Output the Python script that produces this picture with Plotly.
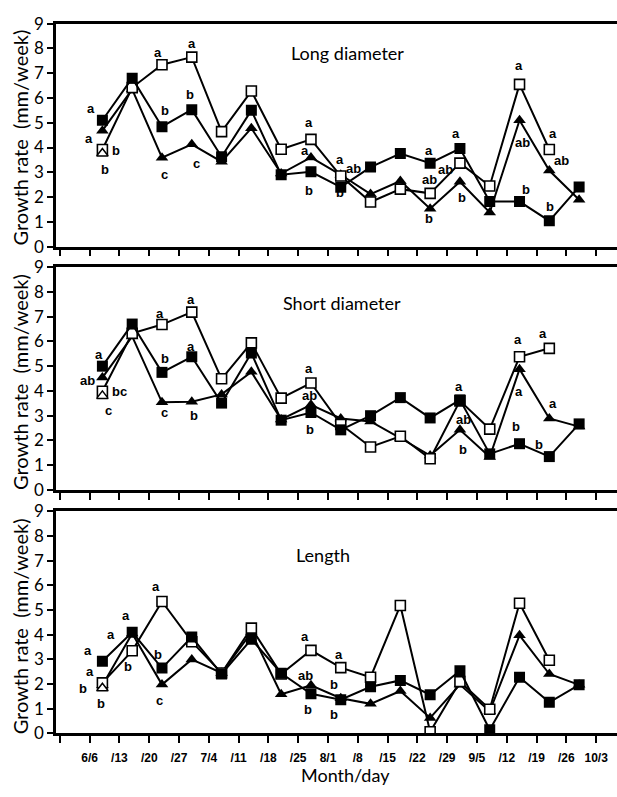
import plotly.graph_objects as go

# ---------------- data ----------------
weeks = list(range(17))
days = [3 + 7 * k for k in weeks]          # sampling days counted from 6/6
tick_days = [-7 + 7 * i for i in range(19)]
tick_text = ["", "6/6", "/13", "/20", "/27", "7/4", "/11", "/18", "/25", "8/1",
             "/8", "/15", "/22", "/29", "9/5", "/12", "/19", "/26", "10/3"]
y_ticks = list(range(10))

panel_titles = ["Long diameter", "Short diameter", "Length"]

long_fs = [5.1, 6.8, 4.84, 5.53, 3.63, 5.5, 2.9, 3.02, 2.4, 3.21, 3.76, 3.37, 3.96, 1.82, 1.82, 1.04, 2.41]
long_os = [3.92, 6.42, 7.34, 7.65, 4.64, 6.28, 3.93, 4.33, 2.85, 1.8, 2.32, 2.15, 3.37, 2.45, 6.55, 3.92, None]
long_tr = [4.68, 6.35, 3.59, 4.13, 3.43, 4.78, 2.95, 3.6, 2.9, 2.12, 2.65, 1.53, 2.62, 1.38, 5.1, 3.07, 1.89]
long_ot = [3.76]

short_fs = [5.0, 6.7, 4.75, 5.38, 3.51, 5.53, 2.82, 3.13, 2.43, 3.0, 3.73, 2.91, 3.64, 1.46, 1.87, 1.35, 2.67]
short_os = [3.99, 6.33, 6.68, 7.18, 4.49, 5.94, 3.71, 4.32, 2.65, 1.74, 2.17, 1.26, 3.6, 2.46, 5.38, 5.72, None]
short_tr = [4.54, 6.2, 3.54, 3.56, 3.86, 4.77, 2.85, 3.44, 2.89, 2.77, 2.1, 1.39, 2.43, 1.33, 4.88, 2.89, 2.56]
short_ot = [3.8]

len_fs = [2.93, 4.1, 2.65, 3.91, 2.41, 3.82, 2.44, 1.61, 1.37, 1.89, 2.15, 1.57, 2.54, 0.15, 2.28, 1.26, 1.97]
len_os = [2.05, 3.35, 5.35, 3.72, 2.45, 4.27, 2.41, 3.37, 2.67, 2.28, 5.19, 0.07, 2.1, 0.98, 5.28, 2.97, None]
len_tr = [1.95, 4.05, 1.98, 3.0, 2.45, 4.1, 1.59, 1.95, 1.43, 1.2, 1.72, 0.63, 1.98, 0.9, 3.98, 2.41, 1.97]
len_ot = [1.83]

# significance letters: (day, value, letter)
long_letters = [
    (0.4, 5.56, "a"), (-0.1, 4.35, "a"), (6.2, 3.87, "b"), (3.6, 3.1, "b"),
    (16.1, 7.82, "a"), (17.7, 5.5, "b"), (17.7, 2.9, "c"),
    (24.1, 8.2, "a"), (23.6, 6.16, "b"), (25.0, 3.34, "c"),
    (51.6, 5.0, "a"), (50.7, 3.87, "a"), (51.6, 2.25, "b"),
    (58.8, 3.5, "a"), (62.1, 3.15, "ab"), (58.8, 2.19, "b"),
    (79.8, 3.87, "a"), (83.5, 3.13, "ab"), (79.8, 2.69, "ab"), (79.8, 1.14, "b"),
    (86.1, 4.57, "a"), (87.5, 1.97, "b"),
    (100.9, 7.3, "a"), (101.6, 4.22, "ab"), (102.6, 2.32, "b"),
    (108.9, 4.55, "a"), (110.8, 3.47, "ab"), (108.2, 1.6, "b"),
]
short_letters = [
    (2.2, 5.49, "a"), (-0.4, 4.42, "ab"), (6.9, 3.99, "bc"), (4.5, 3.21, "c"),
    (16.5, 7.11, "a"), (17.7, 5.29, "b"), (17.5, 3.15, "c"),
    (23.8, 7.7, "a"), (23.8, 5.81, "a"), (24.5, 3.02, "b"),
    (51.6, 4.9, "a"), (51.6, 3.8, "ab"), (51.8, 2.43, "b"),
    (86.8, 4.16, "a"), (87.8, 2.86, "ab"), (87.8, 1.65, "b"),
    (100.6, 6.07, "a"), (100.9, 3.99, "a"), (100.2, 2.56, "b"),
    (106.5, 6.33, "a"), (108.9, 3.51, "a"), (105.6, 1.85, "b"),
]
len_letters = [
    (-0.3, 3.37, "a"), (0.2, 2.5, "a"), (-1.5, 1.83, "b"), (2.7, 1.2, "b"),
    (8.6, 4.8, "a"), (5.1, 4.0, "a"), (9.1, 2.7, "b"),
    (15.7, 5.97, "a"), (16.1, 3.2, "b"), (16.4, 1.33, "c"),
    (50.7, 3.95, "a"), (50.7, 2.35, "ab"), (51.2, 0.98, "b"),
    (58.7, 3.2, "a"), (57.5, 2.0, "b"), (57.5, 0.78, "b"),
]

panels = [
    (long_fs, long_os, long_tr, long_ot, long_letters),
    (short_fs, short_os, short_tr, short_ot, short_letters),
    (len_fs, len_os, len_tr, len_ot, len_letters),
]

# ---------------- layout geometry ----------------
W, H = 617, 797
ML = 56
pix_rows = [(13, 242), (263, 492), (514, 742)]   # (top, bottom) of each panel in px
title_pos = [(60.5, 7.82), (59.4, 7.57), (54.8, 7.24)]
ytitle_center = [130, 381, 632]

TITLE_FONT = "Lato"
LETTER_FONT = "Liberation Sans"

fig = go.Figure()
annotations = []

for i, (fs, os_, tr, ot, letters) in enumerate(panels):
    n = "" if i == 0 else str(i + 1)
    xa, ya = "x" + n, "y" + n
    fig.add_trace(go.Scatter(
        x=days, y=tr, xaxis=xa, yaxis=ya, mode="lines+markers",
        line=dict(color="black", width=2),
        marker=dict(symbol="triangle-up", size=11, color="black"),
        showlegend=False))
    fig.add_trace(go.Scatter(
        x=days, y=os_, xaxis=xa, yaxis=ya, mode="lines+markers",
        line=dict(color="black", width=2),
        marker=dict(symbol="square", size=10, color="white",
                    line=dict(color="black", width=1.6)),
        showlegend=False))
    fig.add_trace(go.Scatter(
        x=days, y=fs, xaxis=xa, yaxis=ya, mode="lines+markers",
        line=dict(color="black", width=2),
        marker=dict(symbol="square", size=11, color="black"),
        showlegend=False))
    fig.add_trace(go.Scatter(
        x=days[:len(ot)], y=ot, xaxis=xa, yaxis=ya, mode="markers",
        marker=dict(symbol="triangle-up", size=10, color="white",
                    line=dict(color="black", width=1.5)),
        showlegend=False))

    for (dx, vy, t) in letters:
        annotations.append(dict(x=dx, y=vy, xref=xa, yref=ya, text=t, showarrow=False,
                                font=dict(family=LETTER_FONT, size=13, color="black",
                                          weight="bold"),
                                xanchor="center", yanchor="middle"))
    tx, ty = title_pos[i]
    annotations.append(dict(x=tx, y=ty, xref=xa, yref=ya, text=panel_titles[i], showarrow=False,
                            font=dict(family=TITLE_FONT, size=18, color="black"),
                            xanchor="center", yanchor="middle"))
    annotations.append(dict(x=(20 - ML) / (W - ML), y=1 - ytitle_center[i] / H,
                            xref="paper", yref="paper", text="Growth rate  (mm/week)",
                            textangle=-90, showarrow=False,
                            font=dict(family=TITLE_FONT, size=20, color="black"),
                            xanchor="center", yanchor="middle"))

    top, bot = pix_rows[i]
    dom = [1 - bot / H, 1 - top / H]
    fig.layout["xaxis" + n] = dict(
        domain=[0, 1], range=[-7.9, 123.9], anchor=ya,
        tickvals=tick_days, ticktext=tick_text, showticklabels=(i == 2),
        ticks="outside", ticklen=7, tickwidth=1.5, tickcolor="black",
        showline=True, linecolor="black", linewidth=2.5, mirror=True,
        showgrid=False, zeroline=False, ticklabelstandoff=4,
        tickfont=dict(family=LETTER_FONT, size=12, color="black", weight="bold"))
    fig.layout["yaxis" + n] = dict(
        domain=dom, range=[0, 9], anchor=xa,
        tickvals=y_ticks, ticks="outside", ticklen=6, tickwidth=1.5, tickcolor="black",
        showline=True, linecolor="black", linewidth=2.5,
        showgrid=False, zeroline=False,
        tickfont=dict(family=TITLE_FONT, size=17, color="black"))

# x axis title
annotations.append(dict(x=(345 - ML) / (W - ML), y=1 - 785 / H, xref="paper", yref="paper",
                        text="Month/day", showarrow=False,
                        font=dict(family=TITLE_FONT, size=18, color="black"),
                        xanchor="center", yanchor="middle"))

fig.update_layout(
    width=W, height=H,
    margin=dict(l=ML, r=0, t=0, b=0),
    paper_bgcolor="white", plot_bgcolor="white",
    annotations=annotations,
    showlegend=False,
)

fig.write_html("out.html")
